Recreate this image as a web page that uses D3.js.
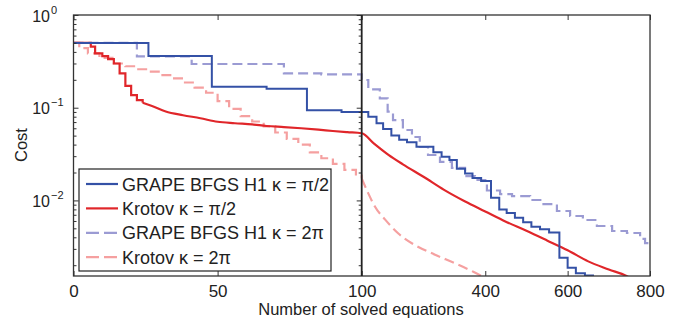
<!DOCTYPE html>
<html>
<head>
<meta charset="utf-8">
<script src="https://cdn.jsdelivr.net/npm/d3@7"></script>
<style>
  body { margin: 0; background: #fff; }
  svg text { font-family: "Liberation Sans", Arial, Helvetica, sans-serif; fill: #222; }
</style>
</head>
<body>
<svg id="chart" width="685" height="325"></svg>
<script>
// x ticks (two linear segments: 0-100 and 100-800)
const xTicks = [0, 50, 100, 400, 600, 800];
const yMajor = [1, 0.1, 0.01];
const yLabels = ["0", "\u22121", "\u22122"];

// GRAPE BFGS H1 k = pi/2 (step)
const blueN = [0, 26, 48, 67, 81, 93, 116, 136, 152, 172, 191, 210, 233, 274, 294, 313, 331, 351, 369, 390, 414, 434, 452, 472, 492, 512, 533, 555, 580, 600, 620, 642, 664];
const blueCost = [0.50, 0.361, 0.168, 0.160, 0.0937, 0.0899, 0.080, 0.068, 0.059, 0.050, 0.045, 0.0423, 0.038, 0.033, 0.0296, 0.0273, 0.022, 0.0195, 0.0175, 0.0162, 0.0107, 0.0080, 0.0073, 0.0065, 0.0058, 0.0052, 0.0049, 0.0045, 0.0024, 0.00188, 0.00164, 0.00155, 0.00155];

// Krotov k = pi/2 (early staircase, then smooth)
const redStepN = [0, 6, 7.5, 10, 12, 14, 16, 18, 20, 22, 24];
const redStepCost = [0.50, 0.455, 0.386, 0.36, 0.335, 0.30, 0.235, 0.172, 0.137, 0.121, 0.113];
const redN = [24, 27, 32, 38, 44, 50, 56, 62, 67, 73, 79, 85, 90, 95, 100, 130, 165, 200, 250, 300, 350, 400, 450, 500, 550, 600, 650, 700, 743, 770];
const redCost = [0.113, 0.105, 0.091, 0.083, 0.077, 0.0705, 0.068, 0.066, 0.0635, 0.0618, 0.060, 0.058, 0.0561, 0.0545, 0.053, 0.041, 0.031, 0.0245, 0.018, 0.013, 0.0098, 0.0076, 0.0059, 0.0047, 0.0037, 0.0029, 0.0022, 0.0018, 0.00153, 0.0013];

// GRAPE BFGS H1 k = 2pi (step)
const purpleN = [0, 22, 41, 73, 86, 100, 116, 144, 163, 176, 200, 222, 241, 261, 290, 319, 351, 375, 404, 436, 465, 509, 538, 574, 606, 637, 671, 708, 744, 776, 788, 800];
const purpleCost = [0.50, 0.357, 0.296, 0.235, 0.229, 0.199, 0.158, 0.126, 0.0906, 0.0736, 0.0575, 0.0483, 0.0377, 0.0309, 0.026, 0.0224, 0.0183, 0.0166, 0.0128, 0.0117, 0.0111, 0.0101, 0.00914, 0.00769, 0.00679, 0.00615, 0.0053, 0.00468, 0.00445, 0.00384, 0.00347, 0.00347];

// Krotov k = 2pi
const pinkStepN = [0, 2, 5, 9, 14, 18, 22, 26, 30, 34, 38, 42, 46, 50, 54, 58, 62, 66, 70, 74, 78, 82, 86, 90, 94, 98, 100];
const pinkStepCost = [0.50, 0.44, 0.385, 0.345, 0.30, 0.28, 0.26, 0.245, 0.225, 0.207, 0.187, 0.165, 0.145, 0.118, 0.097, 0.081, 0.071, 0.063, 0.054, 0.046, 0.040, 0.033, 0.0285, 0.0248, 0.0213, 0.0185, 0.0173];
const pinkN = [100, 116, 132, 157, 189, 229, 278, 326, 371, 395];
const pinkCost = [0.0173, 0.0119, 0.0086, 0.0062, 0.0044, 0.0033, 0.0026, 0.0021, 0.0017, 0.0015];

const legendLabels = ["GRAPE BFGS H1 \u03ba = \u03c0/2", "Krotov \u03ba = \u03c0/2", "GRAPE BFGS H1 \u03ba = 2\u03c0", "Krotov \u03ba = 2\u03c0"];
const colors = ["#3451a6", "#e0262a", "#9b9bd3", "#f5a0a0"];

const svg = d3.select("#chart");
const pLeft = 73.5, pRight = 650, pTop = 15, pBottom = 276, pMid = 361.7;

const x = d3.scaleLinear().domain([0, 100, 800]).range([pLeft, pMid, pRight]);
const y = d3.scaleLog().domain([0.00153, 1]).range([pBottom, pTop]);

const zip = (a, b) => a.map((d, i) => [d, b[i]]);

svg.append("defs").append("clipPath").attr("id", "clip")
    .append("rect").attr("x", pLeft).attr("y", pTop).attr("width", pRight - pLeft).attr("height", pBottom - pTop);

const plot = svg.append("g").attr("clip-path", "url(#clip)");

const stepLine = d3.line().x(d => x(d[0])).y(d => y(d[1])).curve(d3.curveStepAfter);
const smoothLine = d3.line().x(d => x(d[0])).y(d => y(d[1])).curve(d3.curveMonotoneX);

function draw(path, data, color, dash, w) {
    plot.append("path")
        .datum(data)
        .attr("d", path)
        .attr("fill", "none")
        .attr("stroke", color)
        .attr("stroke-width", w)
        .attr("stroke-dasharray", dash);
}

draw(smoothLine, zip(pinkN, pinkCost), colors[3], "10,5", 2.2);
draw(stepLine, zip(pinkStepN, pinkStepCost), colors[3], "10,5", 2.2);
draw(stepLine, zip(purpleN, purpleCost), colors[2], "10,5", 2.2);
draw(stepLine, zip(redStepN, redStepCost), colors[1], null, 2.2);
draw(smoothLine, zip(redN, redCost), colors[1], null, 2.2);
draw(stepLine, zip(blueN, blueCost), colors[0], null, 2);

// minor y ticks
const yMinor = [];
[0.001, 0.01, 0.1].forEach(p => { for (let k = 2; k <= 9; k++) if (p * k >= 0.00153) yMinor.push(p * k); });

// x axes
const xb = svg.append("g").attr("transform", `translate(0,${pBottom})`)
    .call(d3.axisBottom(x).tickValues(xTicks).tickSizeInner(-5).tickSizeOuter(0).tickPadding(9));
xb.select(".domain").remove();
xb.selectAll("text").attr("font-size", 17).style("font-family", "Liberation Sans, Arial, sans-serif").attr("fill", "#222");

const xt = svg.append("g").attr("transform", `translate(0,${pTop})`)
    .call(d3.axisTop(x).tickValues(xTicks).tickSizeInner(-5).tickSizeOuter(0).tickFormat(""));
xt.select(".domain").remove();

// y axis (left)
const yl = svg.append("g").attr("transform", `translate(${pLeft},0)`)
    .call(d3.axisLeft(y).tickValues(yMajor).tickSizeInner(-5).tickSizeOuter(0).tickFormat(""));
yl.select(".domain").remove();
const ylm = svg.append("g").attr("transform", `translate(${pLeft},0)`)
    .call(d3.axisLeft(y).tickValues(yMinor).tickSizeInner(-3).tickSizeOuter(0).tickFormat(""));
ylm.select(".domain").remove();

// mirrored ticks on the divider line
const ym = svg.append("g").attr("transform", `translate(${pMid},0)`)
    .call(d3.axisRight(y).tickValues(yMajor).tickSizeInner(-5).tickSizeOuter(0).tickFormat(""));
ym.select(".domain").remove();
const ymm = svg.append("g").attr("transform", `translate(${pMid},0)`)
    .call(d3.axisRight(y).tickValues(yMinor).tickSizeInner(-3).tickSizeOuter(0).tickFormat(""));
ymm.select(".domain").remove();

svg.selectAll(".tick line").attr("stroke", "#333");

// y tick labels with superscripts
yMajor.forEach((v, i) => {
    svg.append("text")
        .attr("x", 50).attr("y", y(v) + 6.5)
        .attr("text-anchor", "end").attr("font-size", 16).text("10");
    svg.append("text")
        .attr("x", 51).attr("y", y(v) - 1.5)
        .attr("font-size", 11).text(yLabels[i]);
});

// frame and divider
svg.append("rect").attr("x", pLeft).attr("y", pTop).attr("width", pRight - pLeft).attr("height", pBottom - pTop)
    .attr("fill", "none").attr("stroke", "#333").attr("stroke-width", 1.3);
svg.append("line").attr("x1", pMid).attr("x2", pMid).attr("y1", pTop).attr("y2", pBottom)
    .attr("stroke", "#222").attr("stroke-width", 1.8);

// axis titles
svg.append("text").attr("x", 361).attr("y", 315).attr("text-anchor", "middle")
    .attr("font-size", 16.5).text("Number of solved equations");
svg.append("text").attr("transform", "translate(27,145) rotate(-90)").attr("text-anchor", "middle")
    .attr("font-size", 16.5).text("Cost");

// legend
const lg = svg.append("g");
lg.append("rect").attr("x", 79).attr("y", 169).attr("width", 252).attr("height", 102)
    .attr("fill", "#fff").attr("stroke", "#222").attr("stroke-width", 1.2);
const dashes = [null, null, "13,5", "13,5"];
legendLabels.forEach((lab, i) => {
    const cy = 184 + i * 24.4;
    lg.append("line").attr("x1", 86).attr("x2", 118).attr("y1", cy).attr("y2", cy)
        .attr("stroke", colors[i]).attr("stroke-width", 2.2).attr("stroke-dasharray", dashes[i]);
    lg.append("text").attr("x", 122).attr("y", cy + 6.5).attr("font-size", 18).text(lab);
});
</script>
</body>
</html>
